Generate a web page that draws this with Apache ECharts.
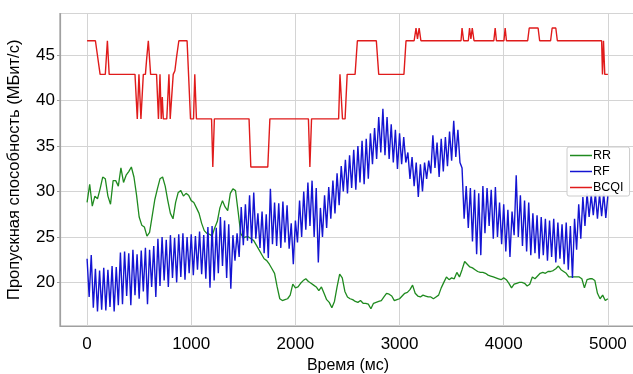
<!DOCTYPE html>
<html>
<head>
<meta charset="utf-8">
<script src="https://cdn.jsdelivr.net/npm/echarts@6/dist/echarts.min.js"></script>
<style>
  html, body { margin: 0; padding: 0; background: #fff; }
  #chart { width: 633px; height: 374px; }
</style>
</head>
<body>
<div id="chart"></div>
<script>
// ---------- данные ----------
var seriesNames = ['RR', 'RF', 'BCQI'];

// RR: шаг 25 мс, 0..5000
var RR_STEP = 25;
var rrValues = [
  28.8, 30.8, 28.4, 29.5, 29.2, 30.3, 31.6, 31.4, 29.5, 28.6,
  31.2, 31.2, 30.6, 32.6, 31.0, 31.8, 32.2, 32.7, 31.6, 29.6,
  27.2, 26.3, 26.1, 25.1, 25.5, 27.3, 29.1, 30.3, 31.4, 31.6,
  30.6, 29.0, 27.6, 27.0, 28.8, 29.9, 30.1, 29.5, 29.8, 29.6,
  29.0, 28.8, 28.2, 27.6, 26.5, 25.7, 25.4, 25.3, 25.1, 26.0,
  26.7, 28.2, 29.0, 28.3, 27.9, 29.8, 30.3, 30.1, 27.8, 25.4,
  24.9, 25.0, 25.0, 24.8, 24.6, 24.1, 23.6, 23.1, 22.6, 22.4,
  22.0, 21.5, 21.0, 19.5, 18.2, 18.0, 18.1, 18.2, 18.6, 19.8,
  19.4, 19.5, 19.9, 20.2, 20.4, 20.1, 19.9, 19.7, 19.5, 19.1,
  19.5, 18.8, 18.1, 17.8, 17.2, 17.9, 19.5, 20.9, 20.5, 19.0,
  18.4, 18.2, 18.1, 17.9, 17.8, 18.0, 17.7, 17.7, 17.6, 17.1,
  17.7, 17.8, 17.9, 18.0, 18.4, 18.8, 18.7, 18.5, 18.0, 18.1,
  18.2, 18.5, 18.8, 18.9, 19.2, 19.7, 18.8, 18.5, 18.4, 18.6,
  18.5, 18.4, 18.4, 18.2, 18.4, 18.6, 19.4, 20.0, 20.6, 20.3,
  20.5, 20.4, 21.1, 20.6, 21.4, 22.3, 22.0, 21.7, 21.6, 21.4,
  21.2, 21.1, 21.1, 21.0, 20.8, 20.7, 20.6, 20.5, 20.4, 20.3,
  20.5, 20.3, 19.9, 19.4, 19.8, 19.9, 20.0, 20.0, 19.9, 19.6,
  19.8, 20.6, 20.4, 20.7, 21.0, 21.1, 21.0, 21.2, 21.2, 21.3,
  21.5, 21.8, 21.4, 21.2, 21.0, 20.6, 20.6, 20.6, 20.6, 20.6,
  20.4, 19.4, 20.3, 20.4, 20.4, 20.2, 18.8, 18.2, 18.6, 18.0,
  18.2
];

// RF: шаг 20 мс, 0..5000
var RF_STEP = 20;
var rfValues = [
  22.6, 18.4, 23.0, 17.2, 21.5, 16.8, 21.3, 17.0, 21.6, 16.9,
  21.4, 17.3, 21.8, 16.8, 21.7, 17.5, 23.3, 17.6, 23.4, 18.5,
  23.2, 17.5, 23.6, 18.6, 23.1, 18.2, 23.5, 19.0, 23.8, 17.6,
  23.6, 19.5, 24.0, 18.4, 24.8, 19.6, 25.0, 20.2, 24.7, 19.5,
  25.2, 20.5, 24.9, 20.0, 25.3, 20.6, 25.4, 20.3, 25.0, 21.0,
  25.3, 20.8, 25.1, 21.4, 25.6, 20.9, 25.2, 20.4, 26.1, 19.4,
  26.2, 20.2, 26.0, 21.0, 27.2, 21.8, 26.8, 20.5, 26.4, 19.3,
  25.2, 22.4, 25.4, 22.8, 28.3, 24.1, 28.6, 24.6, 29.6, 24.3,
  29.9, 24.8, 27.6, 23.8, 27.8, 23.2, 27.5, 22.7, 30.3, 24.2,
  28.8, 24.0, 28.7, 23.8, 28.9, 24.4, 28.5, 23.7, 26.5, 22.0,
  26.8, 24.4, 29.0, 25.0, 30.0, 25.8, 31.0, 26.2, 31.2, 25.0,
  30.4, 22.2, 28.2, 25.0, 29.6, 26.0, 30.5, 27.0, 31.2, 27.6,
  32.0, 28.5, 32.8, 30.0, 33.5, 29.8, 34.0, 30.4, 34.6, 30.2,
  35.0, 31.0, 35.6, 30.8, 35.8, 31.4, 36.4, 33.0, 37.0, 33.6,
  38.2, 34.3, 39.1, 34.0, 38.2, 33.6, 37.4, 33.2, 36.8, 32.5,
  36.4, 33.0, 36.0, 33.2, 34.3, 31.4, 33.8, 30.6, 33.2, 29.4,
  33.0, 30.0, 33.2, 31.4, 33.4, 32.0, 36.2, 32.6, 35.4, 31.6,
  35.8, 32.2, 36.0, 32.8, 36.6, 33.4, 37.8, 33.8, 36.8, 33.2,
  32.6, 27.0, 30.6, 26.0, 30.4, 24.5, 30.2, 23.1, 29.8, 23.0,
  30.6, 25.4, 30.4, 26.2, 30.2, 24.8, 30.5, 25.0, 28.8, 24.2,
  28.6, 23.4, 28.0, 22.8, 27.8, 25.2, 31.8, 25.0, 29.6, 24.0,
  29.0, 23.4, 28.8, 23.0, 27.6, 23.2, 27.4, 22.6, 27.2, 23.0,
  27.0, 22.4, 26.8, 22.8, 27.0, 22.2, 26.6, 22.6, 26.4, 22.0,
  26.6, 21.4, 26.2, 20.5, 27.0, 23.6, 28.6, 24.8, 29.4, 26.2,
  29.8, 27.2, 29.6, 27.4, 29.8, 27.0, 29.7, 27.3, 29.8, 27.1,
  29.6
];

// BCQI: ступенчатая линия, точки излома
var bcqiTime = [
  0, 80, 125, 175, 195, 212, 460, 482, 498, 517,
  540, 560, 572, 588, 610, 667, 685, 700, 712, 722,
  732, 765, 786, 798, 812, 827, 843, 859, 881, 960,
  993, 1022, 1034, 1050, 1195, 1207, 1222, 1555, 1572, 1735,
  1755, 2125, 2139, 2155, 2415, 2428, 2440, 2452, 2477, 2497,
  2573, 2595, 2777, 2800, 3042, 3062, 3140, 3158, 3172, 3188,
  3205, 3590, 3600, 3615, 3660, 3672, 3685, 3698, 3715, 3905,
  3918, 3930, 4002, 4014, 4026, 4230, 4245, 4330, 4345, 4450,
  4465, 4500, 4515, 4940, 4948, 4958, 4970, 5000
];
var bcqiValues = [
  46.6, 46.6, 42.9, 42.9, 46.6, 42.9, 42.9, 38.0, 42.9, 38.0,
  42.9, 42.9, 44.6, 46.6, 42.9, 42.9, 38.0, 42.9, 38.0, 40.4,
  38.0, 38.0, 42.9, 38.0, 38.0, 42.9, 43.3, 44.8, 46.6, 46.6,
  38.0, 38.0, 42.9, 38.0, 38.0, 32.7, 38.0, 38.0, 32.7, 32.7,
  38.0, 38.0, 32.7, 38.0, 38.0, 42.9, 42.9, 38.0, 38.0, 42.9,
  42.9, 46.6, 46.6, 42.9, 42.9, 46.6, 46.6, 48.0, 46.8, 48.0,
  46.6, 46.6, 48.0, 46.6, 46.6, 48.0, 46.8, 48.0, 46.6, 46.6,
  48.0, 46.6, 46.6, 48.0, 46.6, 46.6, 48.0, 48.0, 46.6, 46.6,
  48.0, 48.0, 46.6, 46.6, 42.9, 46.6, 42.9, 42.9
];

var colors = ['#1f8a1f', '#1414d2', '#e01b1b'];
var font = "'Liberation Sans Narrow', 'Arial Narrow', 'Liberation Sans', sans-serif";

var rrData = rrValues.map(function (v, i) { return [i * RR_STEP, v]; });
var rfData = rfValues.map(function (v, i) { return [i * RF_STEP, v]; });
var bcqiData = bcqiTime.map(function (t, i) { return [t, bcqiValues[i]]; });

var chart = echarts.init(document.getElementById('chart'), null, {renderer: 'canvas'});

function lineSeries(name, data, color, width) {
  return {
    name: name,
    type: 'line',
    data: data,
    showSymbol: false,
    symbol: 'none',
    lineStyle: {color: color, width: width},
    itemStyle: {color: color},
    animation: false
  };
}

chart.setOption({
  backgroundColor: '#fff',
  animation: false,
  grid: {
    left: 60, top: 13.5, right: -3, bottom: 48,
    containLabel: false, outerBoundsMode: 'none',
    show: true, borderColor: '#a0a0a0', borderWidth: 1.2
  },
  legend: {
    data: seriesNames.map(function (n, i) {
      return {name: n, icon: 'rect', itemStyle: {color: colors[i]}};
    }),
    orient: 'vertical',
    left: 567, top: 147,
    itemWidth: 22, itemHeight: 1.5, itemGap: 3,
    padding: [2, 6, 2, 3],
    backgroundColor: 'rgba(255,255,255,0.9)',
    borderColor: '#cccccc', borderWidth: 1, borderRadius: 2,
    textStyle: {fontFamily: font, fontSize: 12.5, color: '#000', padding: [0, 0, 0, -4]}
  },
  xAxis: {
    type: 'value',
    min: -260, max: 5270, splitNumber: 5,
    name: 'Время (мс)', nameLocation: 'middle', nameGap: 28,
    nameTextStyle: {fontFamily: font, fontSize: 16, color: '#000'},
    axisLine: {show: true, onZero: false, lineStyle: {color: '#a0a0a0', width: 1.2}},
    axisTick: {show: false},
    axisLabel: {
      fontFamily: font, fontSize: 17, color: '#000', margin: 10,
      showMinLabel: false, showMaxLabel: false,
      formatter: function (v) { return String(v); }
    },
    splitLine: {show: true, lineStyle: {color: '#d4d4d4', width: 1}}
  },
  yAxis: {
    type: 'value',
    min: 15.2, max: 49.6, splitNumber: 7,
    name: 'Пропускная способность (МБит/с)', nameLocation: 'middle', nameGap: 37,
    nameTextStyle: {fontFamily: font, fontSize: 16.5, color: '#000'},
    axisLine: {show: true, onZero: false, lineStyle: {color: '#a0a0a0', width: 1.2}},
    axisTick: {show: true, length: 3, lineStyle: {color: '#a0a0a0'}},
    axisLabel: {
      fontFamily: font, fontSize: 17, color: '#000', margin: 5,
      showMinLabel: false, showMaxLabel: false,
      formatter: function (v) { return String(v); }
    },
    splitLine: {show: true, lineStyle: {color: '#d4d4d4', width: 1}}
  },
  series: [
    lineSeries('RR', rrData, colors[0], 1.3),
    lineSeries('RF', rfData, colors[1], 1.4),
    lineSeries('BCQI', bcqiData, colors[2], 1.4)
  ]
});
</script>
</body>
</html>
